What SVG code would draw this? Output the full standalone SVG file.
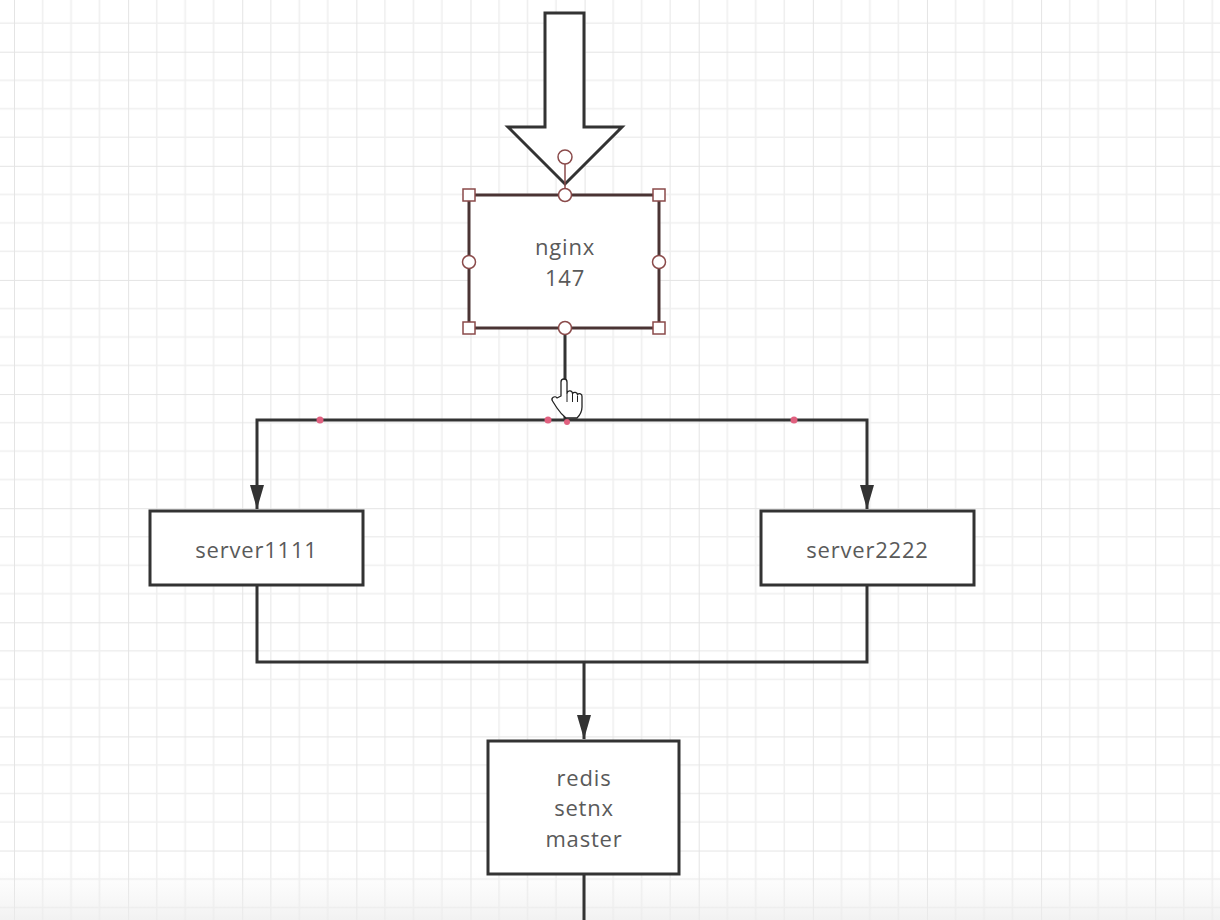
<svg xmlns="http://www.w3.org/2000/svg" width="1220" height="920" viewBox="0 0 1220 920">
<style>
.node{fill:#fff;stroke:#333;stroke-width:3}
.lbl{font-family:"Open Sans","Noto Sans",sans-serif;font-size:22px;fill:#5a5a5a;text-anchor:middle;letter-spacing:0.8px}
.conn{fill:none;stroke:#333;stroke-width:3}
.hs{fill:#fff;stroke:#8a4a4a;stroke-width:1.5}
.dot{fill:#e0607f}
</style>
<defs>
<pattern id="grid" patternUnits="userSpaceOnUse" x="14" y="51.7" width="114.12" height="114.12">
<path d="M28.53,0V114.12M57.06,0V114.12M85.59,0V114.12M0,28.53H114.12M0,57.06H114.12M0,85.59H114.12" stroke="#efefef" stroke-width="1.6" fill="none"/>
<path d="M0,0V114.12M0,0H114.12" stroke="#e4e4e4" stroke-width="2" fill="none"/>
</pattern>
<linearGradient id="fade" x1="0" y1="0" x2="0" y2="1">
<stop offset="0" stop-color="#f0f0f0" stop-opacity="0"/>
<stop offset="1" stop-color="#ececec" stop-opacity="0.7"/>
</linearGradient>
<marker id="ah" viewBox="0 0 24 16" refX="24" refY="8" markerWidth="24" markerHeight="16" markerUnits="userSpaceOnUse" orient="auto">
<path d="M0,1 L24,8 L0,15 z" fill="#333"/>
</marker>
</defs>
<rect width="1220" height="920" fill="#fff"/>
<rect width="1220" height="920" fill="url(#grid)"/>
<rect y="870" width="1220" height="50" fill="url(#fade)"/>

<g id="connectors">
<path class="conn" d="M565,328 V420 H257 V509" marker-end="url(#ah)"/>
<path class="conn" d="M565,420 H867 V509" marker-end="url(#ah)"/>
<path class="conn" d="M257,585 V662 H867 V585"/>
<path class="conn" d="M584,662 V739" marker-end="url(#ah)"/>
<path class="conn" d="M584,874 V920"/>
<circle class="dot" cx="320" cy="420" r="3.5"/>
<circle class="dot" cx="548" cy="420" r="3.5"/>
<circle class="dot" cx="567" cy="422" r="3"/>
<circle class="dot" cx="794" cy="420" r="3.5"/>
</g>

<g id="bigarrow">
<path d="M545,13 H584 V127 H622 L565,184 L508,127 H545 Z" fill="#fff" stroke="#333" stroke-width="3" stroke-linejoin="miter"/>
</g>

<g id="nginx">
<rect x="469" y="195" width="190" height="133" fill="#fff" stroke="#4a3434" stroke-width="3"/>
<text class="lbl" x="565" y="255">nginx</text>
<text class="lbl" x="565" y="286">147</text>
<line x1="565" y1="164" x2="565" y2="189" stroke="#8a4a4a" stroke-width="1.5"/>
<circle class="hs" cx="565" cy="157" r="7"/>
<rect class="hs" x="463" y="189" width="12" height="12"/>
<rect class="hs" x="653" y="189" width="12" height="12"/>
<rect class="hs" x="463" y="322" width="12" height="12"/>
<rect class="hs" x="653" y="322" width="12" height="12"/>
<circle class="hs" cx="565" cy="195" r="6.5"/>
<circle class="hs" cx="565" cy="328" r="6.5"/>
<circle class="hs" cx="469" cy="262" r="6.5"/>
<circle class="hs" cx="659" cy="262" r="6.5"/>
</g>

<g id="server1111">
<rect class="node" x="150" y="511" width="213" height="74"/>
<text class="lbl" x="256.5" y="558">server1111</text>
</g>

<g id="server2222">
<rect class="node" x="761" y="511" width="213" height="74"/>
<text class="lbl" x="867.5" y="558">server2222</text>
</g>

<g id="redis">
<rect class="node" x="488" y="741" width="191" height="133"/>
<text class="lbl" x="584" y="786">redis</text>
<text class="lbl" x="584" y="816">setnx</text>
<text class="lbl" x="584" y="847">master</text>
</g>

<g id="cursor">
<path d="M561,396 V382 a3,3 0 0 1 6,0 V393 a2.8,2.8 0 0 1 5.5,0.5 a2.8,2.8 0 0 1 5,1 a2.6,2.6 0 0 1 4.5,2 V407 q0,6 -5,11 H566 q-5,-4 -9,-10 l-4.5,-7 a2.6,2.6 0 0 1 4.5,-3 z" fill="#fff" stroke="#222" stroke-width="1.3" stroke-linejoin="round"/>
<path d="M567,393 V402 M572.5,394 V402 M577.5,395.5 V402" stroke="#222" stroke-width="1" fill="none"/>
</g>
</svg>
